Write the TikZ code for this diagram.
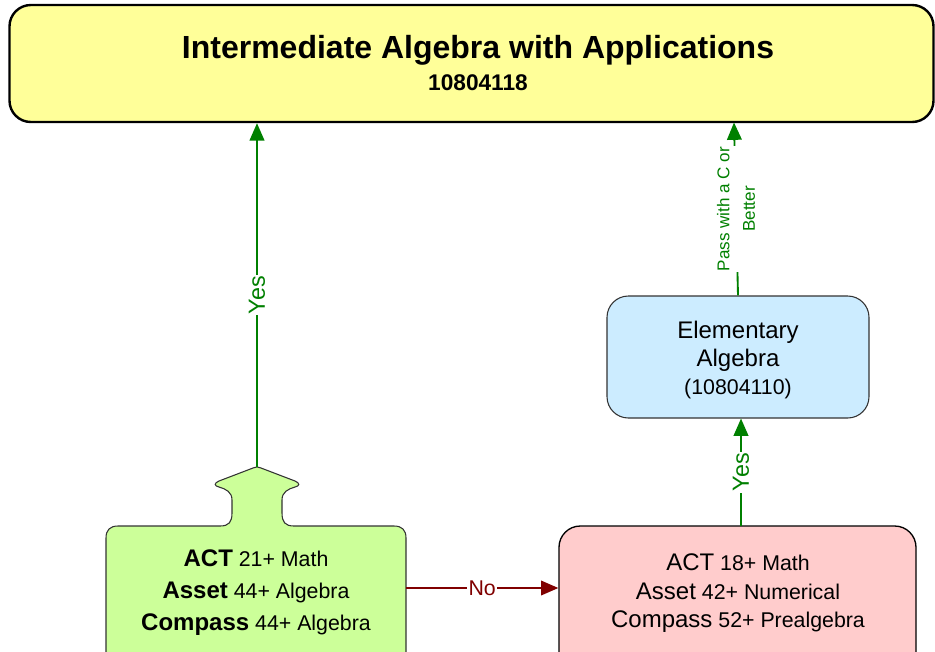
\documentclass[tikz,border=0pt]{standalone}
\usepackage{fontspec}
\setmainfont{Liberation Sans}
\usetikzlibrary{arrows.meta}
\definecolor{boxyellow}{HTML}{FFFF99}
\definecolor{boxgreen}{HTML}{CCFF99}
\definecolor{boxred}{HTML}{FFCCCC}
\definecolor{boxblue}{HTML}{CCECFF}
\definecolor{edgegreen}{HTML}{008000}
\definecolor{edgered}{HTML}{800000}
\definecolor{bordergray}{HTML}{333333}
\tikzset{
  boxnode/.style={draw, rectangle, rounded corners=16pt, inner sep=0pt},
  gline/.style={draw=edgegreen, line width=1.4pt, -{Triangle[length=13pt,width=11pt]}},
  rline/.style={draw=edgered, line width=1.2pt, -{Triangle[length=13pt,width=11pt]}},
  elabel/.style={fill=white, inner sep=1pt, font=\fontsize{16}{19}\selectfont},
  yeslabel/.style={elabel, text=edgegreen, rotate=90, font=\fontsize{17.5}{20}\selectfont}
}
\newcommand{\bigw}[1]{{\fontsize{18}{24}\selectfont #1}}
\begin{document}
\begin{tikzpicture}[x=0.75pt,y=-0.75pt]
\useasboundingbox (0,0) rectangle (935,651);
\begin{scope}
\clip (0,0) rectangle (935,651);
% top box
\node (top) [boxnode, fill=boxyellow, line width=1.8pt, minimum width=693pt, minimum height=87.75pt] at (471.5,63.5) {};
\node (toptext) [align=center, font=\fontsize{17}{24}\selectfont\bfseries] at (478,63.5)
  {{\fontsize{24}{24}\selectfont Intermediate Algebra with Applications}\\10804118};
% blue box
\node (blue) [boxnode, fill=boxblue, draw=bordergray, line width=0.8pt, minimum width=196.5pt, minimum height=91.5pt] at (738,357) {};
\node (bluetext) [align=center, font=\fontsize{18}{21}\selectfont] at (738,360)
  {Elementary\\Algebra\\{\fontsize{16}{21}\selectfont (10804110)}};
% red box
\node (red) [boxnode, fill=boxred, draw=black, line width=1pt, minimum width=267.75pt, minimum height=130.5pt] at (737.5,613) {};
\node (redtext) [align=center, font=\fontsize{16}{21.4}\selectfont] at (738,593.5)
  {\bigw{ACT} 18+ Math\\\bigw{Asset} 42+ Numerical\\\bigw{Compass} 52+ Prealgebra};
% green shape
\draw[fill=boxgreen, draw=bordergray, line width=0.8pt]
  (106,690) -- (106,538) .. controls (106,530) and (110,526) .. (118,526)
  -- (220,526) .. controls (229,526) and (232,522) .. (232,513)
  -- (232,500) .. controls (232,492) and (226,489) .. (219,487)
  .. controls (214,486) and (214,483) .. (219,481)
  -- (253,468) .. controls (256,466.5) and (258,466.5) .. (261,468)
  -- (295,481) .. controls (300,483) and (300,486) .. (295,487)
  .. controls (288,489) and (282,492) .. (282,500)
  -- (282,513) .. controls (282,522) and (285,526) .. (294,526)
  -- (394,526) .. controls (402,526) and (406,530) .. (406,538)
  -- (406,690);
\coordinate (gtip) at (257,467);
\coordinate (gright) at (406,588);
\node (greentext) [align=center, font=\fontsize{16}{24}\selectfont] at (256,592.5)
  {\bigw{\bfseries ACT} 21+ Math\\\bigw{\bfseries Asset} 44+ Algebra\\\bigw{\bfseries Compass} 44+ Algebra};
\end{scope}
% connectors
\draw[gline] (gtip) -- node[yeslabel] (yes1) {Yes} (gtip |- top.south);
\coordinate (ryes) at (741,526);
\draw[gline] (ryes) -- node[yeslabel] (yes2) {Yes} (ryes |- blue.south);
\coordinate (ptop) at (734,122.5);
\draw[gline] (blue.north) -- node[fill=white, inner sep=1pt, text=edgegreen, rotate=90, align=center, font=\fontsize{12.8}{19}\selectfont] (pass) {Pass with a C or\\Better} (ptop);
\draw[rline] (gright) -- node[elabel, text=edgered] (no) {No} (gright -| red.west);
\end{tikzpicture}
\end{document}
